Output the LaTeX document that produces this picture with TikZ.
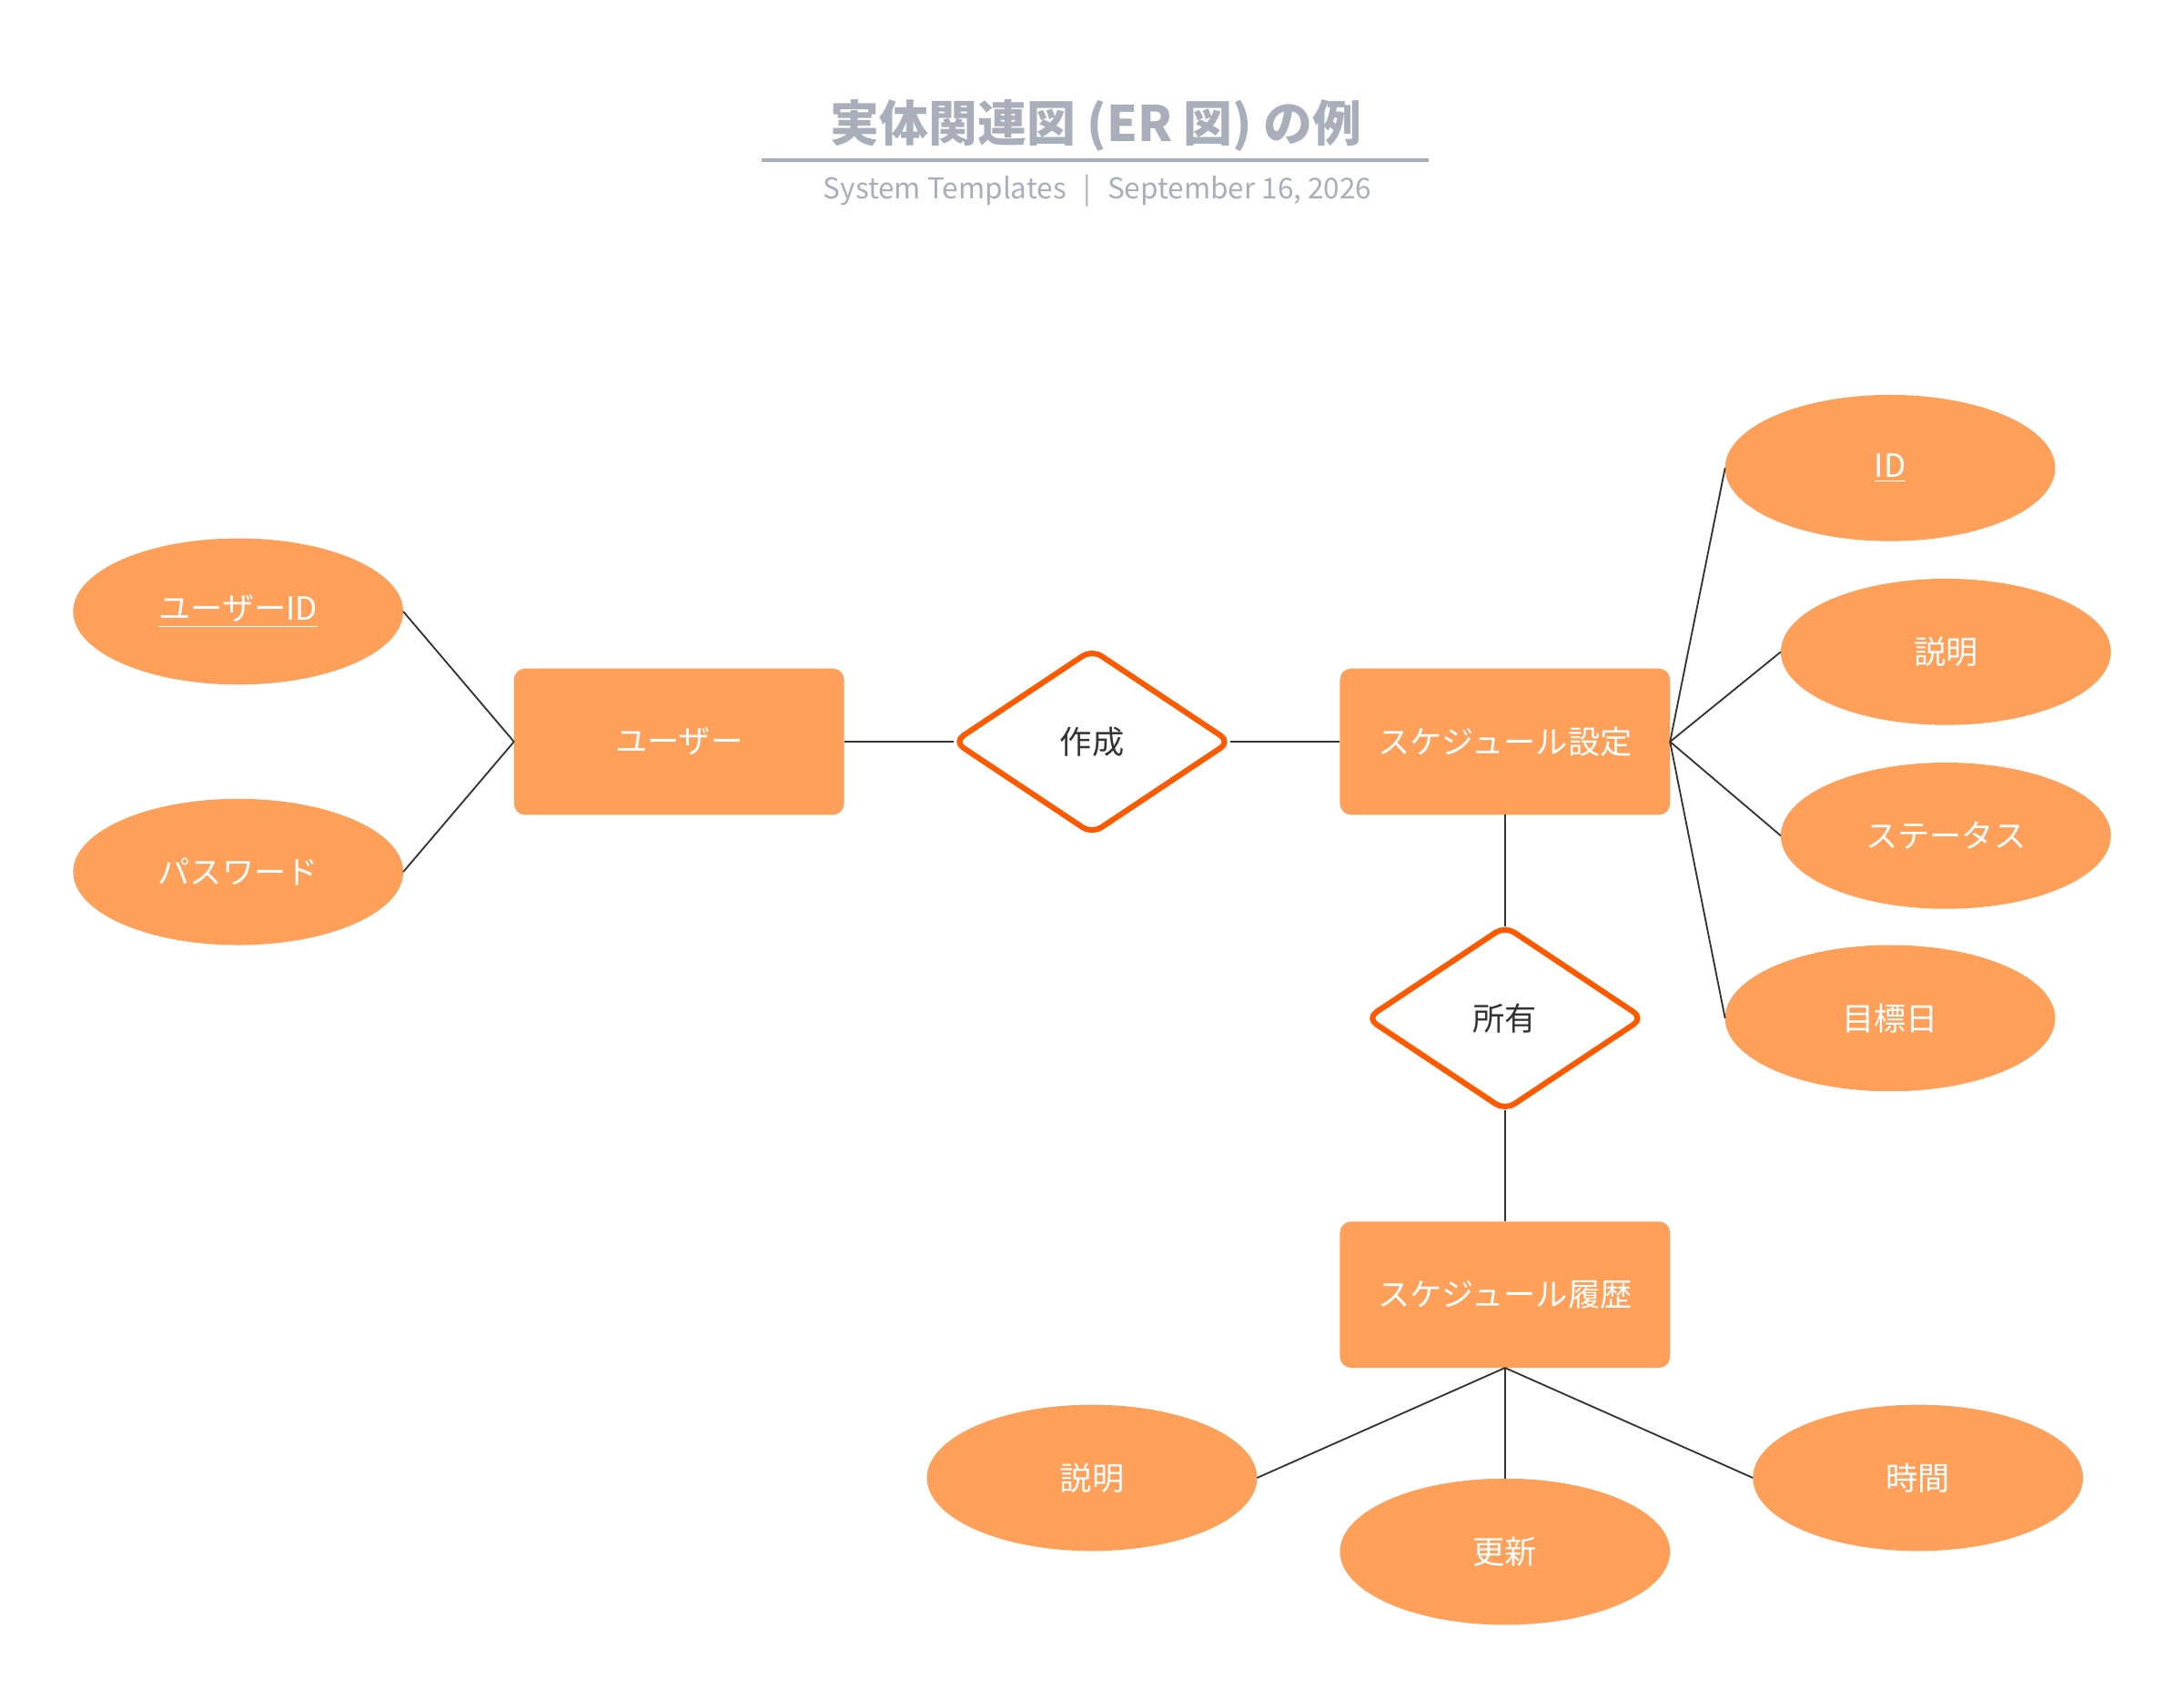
\documentclass[tikz,border=0pt]{standalone}
\usepackage{fontspec}
\setmainfont{Noto Sans CJK JP}
\usetikzlibrary{shapes.geometric}

\definecolor{erfill}{HTML}{FFA05A}
\definecolor{erline}{HTML}{FF5A00}
\definecolor{ergray}{HTML}{A9AFBA}
\definecolor{erdark}{HTML}{333333}

\tikzset{
  entity/.style={draw=none, fill=erfill, rounded corners=4pt, minimum width=118.5pt, minimum height=52.5pt, inner sep=0pt, outer sep=0pt, text=white, font=\fontsize{11.5}{14}\selectfont},
  attrib/.style={ellipse, draw=none, fill=erfill, minimum width=118.5pt, minimum height=52.5pt, inner sep=0pt, outer sep=0pt, text=white, font=\fontsize{11.5}{14}\selectfont},
  relation/.style={diamond, draw=erline, line width=2pt, fill=white, rounded corners=4pt, minimum width=99pt, minimum height=66pt, inner sep=0pt, outer sep=0pt, text=erdark, font=\fontsize{11.5}{14}\selectfont},
  link/.style={draw=erdark, line width=0.6pt}
}

\begin{document}
\begin{tikzpicture}[x=0.5pt,y=0.5pt,yscale=-1,xscale=1]
\useasboundingbox (0,0) rectangle (1568,1219.2);

% Title
\draw (787,90) node [text=ergray, font=\fontsize{17.6}{22}\selectfont\bfseries] (title) {実体関連図 (ER 図) の例};
\draw [ergray, line width=1.5pt] (547,115) -- (1026,115);
% Subtitle
\draw (788,137) node [text=ergray, font=\fontsize{10.3}{13}\selectfont] (subtitle) {System Templates\hspace{6pt}|\hspace{6pt}September 16, 2026};

% Entities
\draw (487.5,532.5) node [entity] (user) {ユーザー};
\draw (1080.5,532.5) node [entity] (setting) {スケジュール設定};
\draw (1080.5,929.5) node [entity] (history) {スケジュール履歴};

% Relations
\draw (784,532.5) node [relation] (create) {作成};
\draw (1080.5,731) node [relation] (own) {所有};

% Attributes
\draw (171,439) node [attrib] (userid) {\underline{ユーザーID}};
\draw (171,626) node [attrib] (password) {パスワード};
\draw (1357,336) node [attrib] (sid) {\underline{ID}};
\draw (1397,468) node [attrib] (sdesc) {説明};
\draw (1397,600) node [attrib] (status) {ステータス};
\draw (1357,731) node [attrib] (target) {目標日};
\draw (784,1061) node [attrib] (hdesc) {説明};
\draw (1080.5,1114) node [attrib] (update) {更新};
\draw (1377,1061) node [attrib] (time) {時間};

% Connectors
\draw [link] (userid.east) -- (user.west);
\draw [link] (password.east) -- (user.west);
\draw [link] (user.east) -- (create.west);
\draw [link] (create.east) -- (setting.west);
\draw [link] (setting.east) -- (sid.west);
\draw [link] (setting.east) -- (sdesc.west);
\draw [link] (setting.east) -- (status.west);
\draw [link] (setting.east) -- (target.west);
\draw [link] (setting.south) -- (own.north);
\draw [link] (own.south) -- (history.north);
\draw [link] (history.south) -- (hdesc.east);
\draw [link] (history.south) -- (update.north);
\draw [link] (history.south) -- (time.west);

\end{tikzpicture}
\end{document}
